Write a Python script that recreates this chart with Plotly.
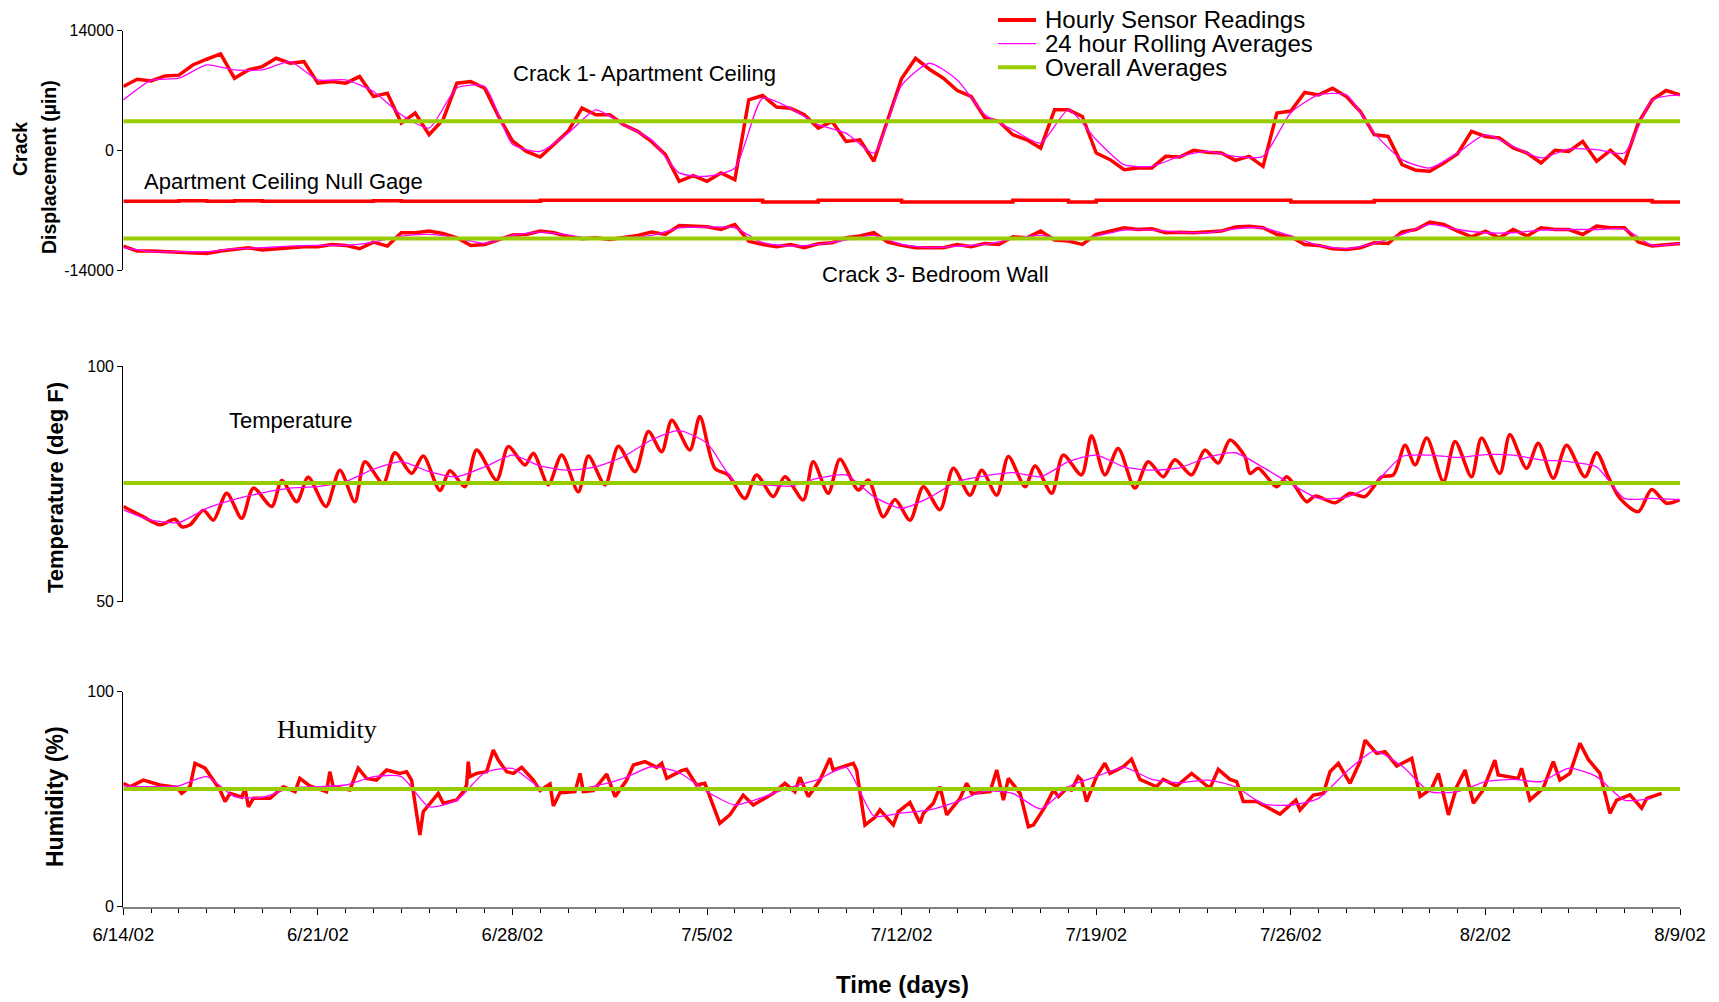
import pandas as pd
import plotly.graph_objects as go

# ---------------- data ----------------
START = "2002-06-14"
END = "2002-08-09"
X_TICK_LABELS = ["6/14/02", "6/21/02", "6/28/02", "7/5/02", "7/12/02",
                 "7/19/02", "7/26/02", "8/2/02", "8/9/02"]
Y1_TICKS = [-14000, 0, 14000]
Y1_TICK_TEXT = ["-14000", "0", "14000"]
Y2_TICKS = [50, 100]
Y3_TICKS = [0, 100]
LEGEND_LABELS = ["Hourly Sensor Readings", "24 hour Rolling Averages", "Overall Averages"]

# Crack 1 - Apartment Ceiling, micro-inches, every 12 h from 6/14 00:00
CRACK1_UIN = [
    7470, 8320, 8130, 8710, 8800, 9990, 10660, 11280, 8440, 9410,
    9800, 10770, 10190, 10380, 7860, 8050, 7860, 8630, 6300, 6690,
    3190, 4360, 1830, 3580, 7860, 8050, 7270, 3970, 1100, -120,
    -780, 780, 2220, 4940, 4160, 4160, 3000, 2220, 1050, -500,
    -3620, -2960, -3620, -2640, -3420, 5910, 6420, 5060, 4940, 4160,
    2610, 3380, 1050, 1240, -1280, 3580, 8400, 10770, 9490, 8440,
    7000, 6300, 3770, 3380, 1830, 1240, 270, 4740, 4740, 3970,
    -310, -1090, -2260, -2060, -2060, -700, -780, 0, -230, -310,
    -1170, -700, -1870, 4360, 4600, 6770, 6490, 7270, 6300, 4550,
    1830, 1630, -1670, -2330, -2450, -1480, -390, 2220, 1630, 1440,
    270, -310, -1480, 0, -120, 1050, -1280, 0, -1480, 3190,
    5910, 7000, 6490]
# Crack 1 24-hour rolling average, daily
CRACK1_ROLL24 = [
    5900, 8200, 8440, 10000, 9410, 9410, 10380, 8250, 8240, 6880,
    4160, 2610, 7300, 7470, 700, -120, 2020, 4740, 3000, 1240,
    -2640, -3030, -2060, 6110, 4940, 3000, 2020, -310, 7600, 10190,
    8240, 4160, 2410, 860, 4740, 1240, -1670, -1870, -700, -120,
    -700, -700, 4400, 6490, 6490, 2020, -1090, -2060, -310, 1830,
    470, -890, 160, 80, -310, 5910, 6490]
# Apartment ceiling null gage, daily
NULL_GAGE_UIN = [
    -5950, -5950, -5900, -5950, -5900, -5950, -5950, -5950, -5950, -5900,
    -5950, -5950, -5950, -5950, -5950, -5830, -5830, -5830, -5830, -5830,
    -5830, -5830, -5830, -6030, -6030, -5830, -5830, -5830, -6030, -6030,
    -6030, -6030, -5850, -5850, -6030, -5850, -5850, -5850, -5850, -5850,
    -5850, -5850, -6030, -6030, -6030, -5870, -5870, -5870, -5870, -5870,
    -5870, -5870, -5870, -5870, -5870, -6030, -6030]
# Crack 3 - Bedroom Wall, every 12 h
CRACK3_UIN = [
    -11200, -11780, -11780, -11860, -11900, -11980, -12060, -11780, -11590, -11390,
    -11670, -11510, -11390, -11280, -11280, -11010, -11120, -11510, -10730, -11200,
    -9640, -9640, -9450, -9720, -10230, -11120, -11010, -10420, -9900, -9840,
    -9450, -9640, -10110, -10340, -10230, -10420, -10230, -9960, -9570, -9840,
    -8790, -8870, -8950, -9260, -8670, -10620, -11010, -11280, -11010, -11390,
    -10930, -10810, -10230, -10030, -9640, -10730, -11120, -11390, -11430, -11390,
    -11010, -11280, -10890, -11010, -10110, -10230, -9450, -10500, -10620, -11010,
    -9840, -9450, -9060, -9260, -9180, -9640, -9570, -9640, -9570, -9450,
    -8980, -8870, -9060, -9840, -10110, -11010, -11120, -11510, -11590, -11390,
    -10810, -10890, -9530, -9260, -8400, -8670, -9450, -10110, -9450, -10230,
    -9260, -10030, -9060, -9260, -9260, -9840, -8870, -9060, -9060, -10730,
    -11200, -11040, -10890]
CRACK3_ROLL24 = [
    -11390, -11860, -11860, -11860, -11510, -11390, -11200, -11120, -11120, -10730,
    -10030, -9840, -10230, -10890, -9960, -9570, -9880, -10420, -10230, -9960,
    -9060, -8980, -9060, -10810, -11200, -11010, -10500, -9960, -11010, -11390,
    -11200, -11010, -10340, -9960, -10500, -10030, -9330, -9330, -9570, -9640,
    -9180, -9060, -10030, -11120, -11510, -10890, -9840, -8670, -9260, -9640,
    -9640, -9330, -9260, -9260, -9180, -11120, -10890]

# Temperature readings: day offset from 6/14 and deg F
TEMP_DAY = [
    0.00, 0.72, 1.32, 1.86, 2.10, 2.40, 2.88, 3.24, 3.72, 4.26,
    4.68, 5.34, 5.70, 6.24, 6.65, 7.29, 7.79, 8.33, 8.69, 9.35,
    9.77, 10.37, 10.79, 11.39, 11.75, 12.29, 12.71, 13.43, 13.85, 14.45,
    14.75, 15.29, 15.77, 16.37, 16.73, 17.33, 17.81, 18.41, 18.89, 19.37,
    19.73, 20.38, 20.74, 21.28, 21.76, 22.36, 22.78, 23.38, 23.80, 24.46,
    24.82, 25.36, 25.78, 26.44, 26.80, 27.34, 27.76, 28.30, 28.78, 29.38,
    29.86, 30.46, 30.88, 31.42, 31.84, 32.44, 32.80, 33.40, 33.81, 34.47,
    34.83, 35.31, 35.79, 36.39, 36.87, 37.41, 37.83, 38.43, 38.91, 39.39,
    39.81, 40.35, 40.53, 40.83, 41.49, 41.85, 42.12, 42.57, 42.87, 43.59,
    44.13, 44.67, 45.27, 45.69, 46.11, 46.47, 46.89, 47.49, 47.91, 48.50,
    48.86, 49.52, 49.88, 50.48, 50.90, 51.44, 51.92, 52.58, 53.00, 53.42,
    53.84, 54.50, 54.98, 55.52, 55.98]
TEMP_F = [
    70.2, 68.0, 66.3, 67.5, 65.9, 66.3, 69.4, 67.3, 73.0, 67.7,
    74.1, 70.2, 75.7, 71.2, 76.4, 70.2, 77.9, 71.2, 79.7, 75.1,
    81.6, 77.2, 80.9, 73.6, 77.8, 74.4, 82.2, 75.8, 82.9, 79.0,
    81.5, 74.8, 81.1, 73.3, 80.9, 74.8, 83.0, 77.6, 86.1, 81.8,
    88.5, 82.2, 89.3, 78.3, 76.9, 71.9, 76.9, 72.3, 76.5, 71.6,
    79.7, 73.0, 80.2, 73.7, 75.8, 68.0, 71.7, 67.3, 74.4, 69.5,
    78.3, 72.6, 77.9, 72.6, 80.8, 74.4, 78.8, 73.0, 81.1, 76.9,
    85.2, 76.9, 82.5, 74.1, 79.7, 76.5, 80.1, 76.9, 82.2, 79.4,
    84.3, 80.8, 77.2, 78.3, 74.4, 76.5, 74.8, 71.2, 72.4, 71.0,
    73.0, 72.3, 76.5, 76.9, 83.2, 79.0, 84.7, 75.5, 84.0, 76.5,
    84.7, 77.2, 85.4, 78.3, 83.6, 76.2, 83.2, 76.5, 81.6, 76.5,
    71.9, 69.1, 73.8, 70.9, 71.6]
TEMP_ROLL24 = [
    69.5, 67.3, 66.8, 69.8, 71.7, 73.1, 74.1, 74.4, 75.5, 78.1,
    79.7, 77.6, 76.5, 78.6, 81.1, 78.8, 77.9, 78.6, 80.8, 84.3,
    86.3, 83.6, 75.5, 74.8, 74.5, 76.2, 76.9, 72.3, 69.8, 72.1,
    75.5, 76.7, 77.4, 76.5, 79.7, 81.1, 78.6, 77.9, 78.4, 80.6,
    81.6, 78.5, 75.0, 71.9, 72.2, 75.0, 80.8, 81.1, 80.6, 81.2,
    81.1, 80.1, 79.7, 78.6, 71.9, 71.9, 71.6]

# Humidity readings: day offset from 6/14 and percent
HUM_DAY = [
    0.00, 0.24, 0.72, 1.32, 1.92, 2.10, 2.40, 2.58, 2.94, 3.30,
    3.48, 3.66, 3.84, 4.26, 4.38, 4.50, 4.68, 5.28, 5.76, 6.18,
    6.35, 6.71, 7.31, 7.43, 7.55, 8.15, 8.45, 8.75, 9.11, 9.47,
    9.95, 10.19, 10.37, 10.55, 10.67, 10.79, 11.33, 11.51, 11.99, 12.23,
    12.35, 12.41, 12.47, 12.71, 13.07, 13.31, 13.49, 13.79, 14.03, 14.33,
    14.75, 14.99, 15.35, 15.47, 15.71, 16.25, 16.43, 16.55, 16.91, 17.39,
    17.69, 18.11, 18.35, 18.77, 19.19, 19.37, 19.55, 20.08, 20.26, 20.62,
    20.92, 21.46, 21.82, 22.30, 22.66, 23.38, 23.80, 24.16, 24.34, 24.64,
    25.06, 25.42, 25.54, 26.26, 26.38, 26.68, 27.04, 27.22, 27.70, 27.88,
    28.30, 28.66, 28.78, 29.14, 29.38, 29.62, 30.10, 30.34, 30.52, 31.18,
    31.42, 31.66, 31.84, 32.26, 32.56, 32.74, 33.16, 33.46, 33.64, 33.94,
    34.11, 34.35, 34.47, 34.65, 35.01, 35.31, 35.49, 35.97, 36.27, 36.57,
    37.17, 37.41, 37.89, 38.43, 39.09, 39.39, 39.81, 40.05, 40.29, 40.77,
    41.13, 41.61, 42.18, 42.33, 42.81, 43.17, 43.41, 43.71, 44.13, 44.49,
    44.67, 45.09, 45.39, 45.81, 46.35, 46.65, 47.07, 47.31, 47.67, 47.97,
    48.27, 48.57, 48.92, 49.34, 49.46, 50.18, 50.30, 50.60, 51.08, 51.44,
    51.68, 52.04, 52.40, 52.70, 53.12, 53.48, 53.72, 54.20, 54.62, 54.80,
    55.34]
HUM_PCT = [
    57.4, 55.8, 58.9, 56.6, 55.5, 52.7, 55.8, 66.7, 64.4, 57.4,
    54.3, 48.9, 52.7, 50.9, 55.1, 46.5, 50.4, 50.4, 55.8, 53.5,
    59.7, 56.2, 53.5, 62.8, 55.8, 54.3, 64.4, 59.7, 58.9, 63.6,
    62.0, 62.8, 58.9, 43.4, 33.4, 44.2, 52.7, 48.1, 49.6, 53.5,
    56.6, 67.5, 60.5, 62.0, 62.8, 72.9, 68.2, 62.8, 62.0, 64.8,
    58.9, 54.0, 57.1, 46.8, 53.0, 53.5, 62.0, 53.5, 54.0, 61.7,
    51.2, 58.9, 65.9, 67.5, 64.8, 66.7, 59.7, 63.3, 63.9, 56.6,
    57.4, 38.8, 42.7, 51.9, 47.3, 52.7, 57.4, 53.5, 60.2, 51.2,
    58.9, 69.0, 63.6, 66.7, 63.6, 38.0, 41.6, 45.0, 38.0, 44.2,
    48.5, 38.8, 43.4, 48.1, 55.8, 42.7, 50.4, 57.4, 52.7, 53.5,
    63.6, 49.6, 59.7, 52.7, 37.2, 38.0, 46.5, 54.3, 51.2, 55.1,
    54.3, 60.5, 58.9, 48.9, 60.5, 66.7, 62.0, 65.1, 68.6, 59.2,
    55.8, 59.2, 56.1, 62.0, 55.1, 63.9, 59.2, 58.2, 48.9, 48.9,
    46.5, 43.1, 49.6, 45.0, 51.9, 52.7, 62.8, 66.7, 57.4, 67.5,
    77.5, 71.3, 72.1, 65.4, 69.0, 51.2, 55.1, 62.0, 42.7, 55.8,
    63.6, 48.1, 54.3, 68.2, 61.3, 59.7, 64.4, 49.6, 55.1, 67.5,
    58.9, 62.0, 76.0, 68.5, 62.0, 43.4, 49.6, 52.0, 45.8, 50.4,
    52.7]
HUM_ROLL24 = [
    56.2, 55.8, 56.2, 60.5, 51.2, 50.9, 55.1, 55.8, 56.6, 60.5,
    60.5, 46.5, 49.6, 62.3, 64.3, 55.5, 54.3, 56.2, 59.7, 65.1,
    62.3, 53.5, 47.3, 50.9, 55.5, 59.2, 64.8, 42.2, 43.6, 45.0,
    48.9, 53.8, 52.7, 45.5, 55.8, 60.5, 64.8, 59.2, 57.7, 58.9,
    55.8, 47.8, 47.3, 50.4, 62.8, 72.4, 65.4, 53.5, 53.5, 58.2,
    59.2, 58.2, 64.4, 60.5, 49.6, 50.4]

CRACK1_OVERALL = 3400
CRACK3_OVERALL = -10300
TEMP_OVERALL = 75.2
HUM_OVERALL = 54.7

# ---------------- styling ----------------
RED = "#FF0000"
MAGENTA = "#FF00FF"
GREEN = "#99CC00"
SANS = "Arial, Liberation Sans, sans-serif"
SERIF = "Times New Roman, Liberation Serif, serif"
W, H = 1719, 1002

t0 = pd.Timestamp(START)
t_end = pd.Timestamp(END)


def half_days(n):
    return pd.date_range(t0, periods=n, freq="12h")


def days(n):
    return pd.date_range(t0, periods=n, freq="D")


def from_days(d):
    return t0 + pd.to_timedelta(d, unit="D")


fig = go.Figure()


def red(x, y, xa, ya, shape="linear"):
    fig.add_trace(go.Scatter(
        x=x, y=y, xaxis=xa, yaxis=ya, mode="lines",
        line=dict(color=RED, width=3.5, shape=shape,
                  smoothing=0.8 if shape == "spline" else None),
        name=LEGEND_LABELS[0], showlegend=False, hoverinfo="skip"))


def mag(x, y, xa, ya):
    fig.add_trace(go.Scatter(
        x=x, y=y, xaxis=xa, yaxis=ya, mode="lines",
        line=dict(color=MAGENTA, width=1.3, shape="spline", smoothing=0.6),
        name=LEGEND_LABELS[1], showlegend=False, hoverinfo="skip"))


def avg(val, xa, ya):
    fig.add_trace(go.Scatter(
        x=[t0, t_end], y=[val, val], xaxis=xa, yaxis=ya, mode="lines",
        line=dict(color=GREEN, width=4),
        name=LEGEND_LABELS[2], showlegend=False, hoverinfo="skip"))


# top panel: crack displacement
red(half_days(len(CRACK1_UIN)), CRACK1_UIN, "x", "y")
red(days(len(NULL_GAGE_UIN)), NULL_GAGE_UIN, "x", "y", shape="hv")
red(half_days(len(CRACK3_UIN)), CRACK3_UIN, "x", "y")
mag(days(len(CRACK1_ROLL24)), CRACK1_ROLL24, "x", "y")
mag(days(len(CRACK3_ROLL24)), CRACK3_ROLL24, "x", "y")
avg(CRACK1_OVERALL, "x", "y")
avg(CRACK3_OVERALL, "x", "y")

# middle panel: temperature
red(from_days(TEMP_DAY), TEMP_F, "x2", "y2", shape="spline")
mag(days(len(TEMP_ROLL24)), TEMP_ROLL24, "x2", "y2")
avg(TEMP_OVERALL, "x2", "y2")

# bottom panel: humidity
red(from_days(HUM_DAY), HUM_PCT, "x3", "y3")
mag(days(len(HUM_ROLL24)), HUM_ROLL24, "x3", "y3")
avg(HUM_OVERALL, "x3", "y3")

XDOM = [123.3 / W, 1680 / W]


def ydom(top_px, bot_px):
    return [1 - bot_px / H, 1 - top_px / H]


common_x = dict(type="date", range=[t0, t_end], domain=XDOM, automargin=False,
                showgrid=False, zeroline=False)
common_y = dict(showgrid=False, zeroline=False, showline=True, automargin=False,
                linecolor="black", linewidth=1.2, ticks="outside",
                ticklen=5, tickcolor="black",
                tickfont=dict(family=SANS, size=16, color="black"))

fig.update_layout(
    width=W, height=H,
    margin=dict(l=0, r=0, t=0, b=0, autoexpand=False),
    paper_bgcolor="white", plot_bgcolor="white",
    showlegend=False,
    xaxis=dict(**common_x, anchor="y", showticklabels=False, ticks="", showline=False),
    xaxis2=dict(**common_x, anchor="y2", showticklabels=False, ticks="", showline=False),
    xaxis3=dict(**common_x, anchor="y3", showline=True, linecolor="#808080", linewidth=2,
                ticks="outside", ticklen=6, tickwidth=1, tickcolor="black",
                tickvals=pd.date_range(t0, periods=len(X_TICK_LABELS), freq="7D"),
                ticktext=X_TICK_LABELS, ticklabelstandoff=4,
                tickfont=dict(family=SANS, size=18.5, color="black"),
                minor=dict(ticks="outside", ticklen=4, tickcolor="black",
                           tick0=t0, dtick=86400000, showgrid=False)),
    yaxis=dict(**common_y, anchor="x", domain=ydom(30.7, 270), range=[-14000, 14000],
               tickvals=Y1_TICKS, ticktext=Y1_TICK_TEXT),
    yaxis2=dict(**common_y, anchor="x2", domain=ydom(366, 601.7), range=[50, 100],
                tickvals=Y2_TICKS),
    yaxis3=dict(**common_y, anchor="x3", domain=ydom(691.7, 906.7), range=[0, 100],
                tickvals=Y3_TICKS),
)


def note(text, px, py, size=22, family=SANS, angle=0, xanchor="center"):
    fig.add_annotation(text=text, x=px / W, y=1 - py / H, xref="paper", yref="paper",
                       showarrow=False, textangle=angle, xanchor=xanchor, yanchor="middle",
                       font=dict(family=family, size=size, color="black"))


# legend (drawn in the top-right corner like the original)
LEG_STYLE = [(RED, 4), (MAGENTA, 1.3), (GREEN, 4)]
for i, (label, (col, wid)) in enumerate(zip(LEGEND_LABELS, LEG_STYLE)):
    py = 20 + 23.6 * i
    fig.add_shape(type="line", xref="paper", yref="paper",
                  x0=998 / W, x1=1036 / W, y0=1 - py / H, y1=1 - py / H,
                  line=dict(color=col, width=wid))
    note(label, 1043, py, size=24, xanchor="left")

note("Crack 1- Apartment Ceiling", 644, 73)
note("Apartment Ceiling Null Gage", 283, 181)
note("Crack 3- Bedroom Wall", 935, 274)
note("Temperature", 291, 420)
note("Humidity", 327, 729, size=26, family=SERIF)
note("<b>Crack</b>", 20, 149, size=19.5, angle=-90)
note("<b>Displacement (µin)</b>", 49, 167, size=19.5, angle=-90)
note("<b>Temperature (deg F)</b>", 55, 488, angle=-90)
note("<b>Humidity (%)</b>", 55, 797, size=23, angle=-90)
note("<b>Time (days)</b>", 902, 984, size=24)

fig.write_html("out.html")
